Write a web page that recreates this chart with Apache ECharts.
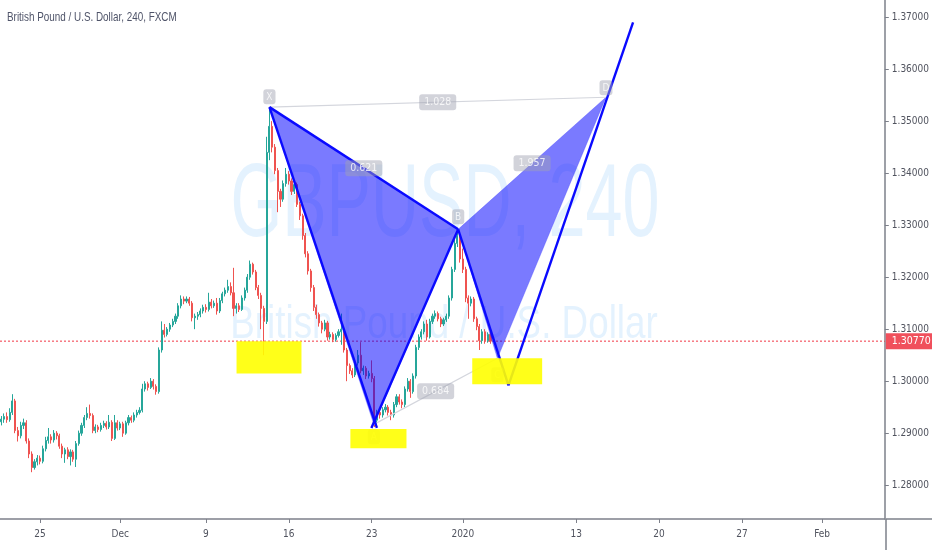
<!DOCTYPE html>
<html><head><meta charset="utf-8">
<script src="https://cdn.jsdelivr.net/npm/echarts@6/dist/echarts.min.js"></script>
<style>html,body{margin:0;padding:0;background:#fff}#c{width:932px;height:550px}</style>
</head><body><div id="c"></div>
<script>
// [open, close, low, high] per 4h bar, bar index = position in array
const candles = [
[1.2922,1.2927,1.2915,1.2933],[1.2927,1.2932,1.2920,1.2938],[1.2932,1.2926,1.2920,1.2940],[1.2926,1.2940,1.2922,1.2948],
[1.2940,1.2962,1.2935,1.2975],[1.2962,1.2905,1.2900,1.2966],[1.2905,1.2895,1.2884,1.2912],[1.2895,1.2915,1.2890,1.2922],
[1.2915,1.2920,1.2908,1.2928],[1.2920,1.2885,1.2880,1.2925],[1.2885,1.2860,1.2852,1.2890],[1.2860,1.2834,1.2825,1.2865],
[1.2834,1.2845,1.2830,1.2850],[1.2845,1.2852,1.2838,1.2858],[1.2852,1.2846,1.2840,1.2857],[1.2846,1.2870,1.2842,1.2876],
[1.2870,1.2886,1.2865,1.2893],[1.2886,1.2893,1.2880,1.2910],[1.2893,1.2887,1.2880,1.2898],[1.2887,1.2900,1.2882,1.2906],
[1.2900,1.2895,1.2888,1.2904],[1.2895,1.2875,1.2870,1.2899],[1.2875,1.2860,1.2852,1.2880],[1.2860,1.2868,1.2843,1.2872],
[1.2868,1.2855,1.2850,1.2873],[1.2855,1.2864,1.2838,1.2869],[1.2864,1.2850,1.2845,1.2868],[1.2850,1.2880,1.2835,1.2885],
[1.2880,1.2900,1.2876,1.2905],[1.2900,1.2915,1.2895,1.2920],[1.2915,1.2930,1.2910,1.2935],[1.2930,1.2938,1.2925,1.2950],
[1.2938,1.2934,1.2928,1.2955],[1.2934,1.2905,1.2900,1.2938],[1.2905,1.2912,1.2900,1.2917],[1.2912,1.2907,1.2902,1.2916],
[1.2907,1.2915,1.2903,1.2920],[1.2915,1.2919,1.2910,1.2924],[1.2919,1.2912,1.2907,1.2923],[1.2912,1.2921,1.2908,1.2935],
[1.2921,1.2890,1.2885,1.2925],[1.2890,1.2920,1.2887,1.2935],[1.2920,1.2910,1.2905,1.2925],[1.2910,1.2918,1.2906,1.2922],
[1.2918,1.2900,1.2893,1.2922],[1.2900,1.2920,1.2897,1.2924],[1.2920,1.2930,1.2915,1.2935],[1.2930,1.2925,1.2920,1.2934],
[1.2925,1.2935,1.2921,1.2940],[1.2935,1.2940,1.2930,1.2945],[1.2940,1.2944,1.2936,1.2950],[1.2944,1.2985,1.2940,1.2995],
[1.2985,1.2995,1.2980,1.3000],[1.2995,1.2988,1.2982,1.2999],[1.2988,1.3000,1.2985,1.3006],[1.3000,1.2990,1.2984,1.3004],
[1.2990,1.2980,1.2974,1.2994],[1.2980,1.3060,1.2976,1.3065],[1.3060,1.3098,1.3055,1.3115],[1.3098,1.3090,1.3084,1.3110],
[1.3090,1.3100,1.3086,1.3104],[1.3100,1.3108,1.3095,1.3112],[1.3108,1.3115,1.3104,1.3120],[1.3115,1.3125,1.3110,1.3130],
[1.3125,1.3145,1.3120,1.3150],[1.3145,1.3158,1.3140,1.3165],[1.3158,1.3154,1.3148,1.3163],[1.3154,1.3158,1.3150,1.3163],
[1.3158,1.3150,1.3145,1.3162],[1.3150,1.3122,1.3115,1.3154],[1.3122,1.3125,1.3100,1.3130],[1.3125,1.3128,1.3118,1.3133],
[1.3128,1.3135,1.3123,1.3140],[1.3135,1.3142,1.3130,1.3147],[1.3142,1.3138,1.3132,1.3148],[1.3138,1.3152,1.3134,1.3170],
[1.3152,1.3145,1.3140,1.3158],[1.3145,1.3150,1.3141,1.3155],[1.3150,1.3135,1.3128,1.3160],[1.3135,1.3155,1.3131,1.3160],
[1.3155,1.3168,1.3150,1.3172],[1.3168,1.3175,1.3163,1.3180],[1.3175,1.3182,1.3170,1.3195],[1.3182,1.3170,1.3165,1.3190],
[1.3170,1.3140,1.3125,1.3218],[1.3140,1.3145,1.3130,1.3150],[1.3145,1.3138,1.3133,1.3150],[1.3138,1.3160,1.3135,1.3165],
[1.3160,1.3175,1.3155,1.3180],[1.3175,1.3200,1.3170,1.3206],[1.3200,1.3225,1.3195,1.3232],[1.3225,1.3210,1.3205,1.3228],
[1.3210,1.3180,1.3175,1.3214],[1.3180,1.3165,1.3158,1.3185],[1.3165,1.3140,1.3100,1.3170],[1.3140,1.3115,1.3050,1.3145],
[1.3115,1.3440,1.3110,1.3470],[1.3440,1.3490,1.3425,1.3527],[1.3490,1.3450,1.3440,1.3500],[1.3450,1.3405,1.3398,1.3456],
[1.3405,1.3365,1.3325,1.3410],[1.3365,1.3350,1.3335,1.3370],[1.3350,1.3380,1.3345,1.3386],[1.3380,1.3398,1.3374,1.3410],
[1.3398,1.3385,1.3378,1.3404],[1.3385,1.3365,1.3358,1.3390],[1.3365,1.3378,1.3360,1.3384],[1.3378,1.3340,1.3335,1.3382],
[1.3340,1.3318,1.3310,1.3345],[1.3318,1.3280,1.3272,1.3322],[1.3280,1.3245,1.3238,1.3285],[1.3245,1.3212,1.3205,1.3250],
[1.3212,1.3180,1.3172,1.3216],[1.3180,1.3142,1.3135,1.3185],[1.3142,1.3128,1.3120,1.3147],[1.3128,1.3112,1.3105,1.3132],
[1.3112,1.3100,1.3092,1.3116],[1.3100,1.3112,1.3096,1.3118],[1.3112,1.3085,1.3078,1.3116],[1.3085,1.3090,1.3080,1.3095],
[1.3090,1.3080,1.3075,1.3094],[1.3080,1.3088,1.3076,1.3092],[1.3088,1.3095,1.3084,1.3100],[1.3095,1.3100,1.3070,1.3130],
[1.3100,1.3060,1.3055,1.3104],[1.3060,1.3030,1.3000,1.3064],[1.3030,1.3020,1.3014,1.3034],[1.3020,1.3012,1.3006,1.3025],
[1.3012,1.3035,1.3008,1.3040],[1.3035,1.3050,1.3030,1.3060],[1.3050,1.3020,1.3015,1.3075],[1.3020,1.3025,1.3012,1.3030],
[1.3025,1.3010,1.3004,1.3029],[1.3010,1.3015,1.3005,1.3020],[1.3015,1.3005,1.2998,1.3040],[1.3005,1.2925,1.2912,1.3010],
[1.2925,1.2940,1.2910,1.2945],[1.2940,1.2935,1.2928,1.2946],[1.2935,1.2945,1.2930,1.2950],[1.2945,1.2950,1.2940,1.2956],
[1.2950,1.2940,1.2934,1.2954],[1.2940,1.2935,1.2925,1.2945],[1.2935,1.2955,1.2930,1.2960],[1.2955,1.2970,1.2950,1.2975],
[1.2970,1.2960,1.2955,1.2975],[1.2960,1.2955,1.2948,1.2965],[1.2955,1.2985,1.2950,1.2990],[1.2985,1.3000,1.2980,1.3006],
[1.3000,1.2980,1.2968,1.3004],[1.2980,1.3010,1.2976,1.3015],[1.3010,1.3065,1.3005,1.3070],[1.3065,1.3085,1.3060,1.3090],
[1.3085,1.3095,1.3080,1.3100],[1.3095,1.3110,1.3090,1.3115],[1.3110,1.3085,1.3078,1.3118],[1.3085,1.3115,1.3082,1.3120],
[1.3115,1.3125,1.3110,1.3130],[1.3125,1.3130,1.3120,1.3136],[1.3130,1.3120,1.3115,1.3134],[1.3120,1.3110,1.3104,1.3124],
[1.3110,1.3118,1.3106,1.3122],[1.3118,1.3125,1.3114,1.3130],[1.3125,1.3160,1.3120,1.3165],[1.3160,1.3215,1.3155,1.3220],
[1.3215,1.3265,1.3210,1.3272],[1.3265,1.3280,1.3258,1.3292],[1.3280,1.3235,1.3228,1.3285],[1.3235,1.3215,1.3208,1.3255],
[1.3215,1.3160,1.3152,1.3220],[1.3160,1.3150,1.3120,1.3165],[1.3150,1.3158,1.3144,1.3163],[1.3158,1.3120,1.3114,1.3162],
[1.3120,1.3105,1.3098,1.3124],[1.3105,1.3078,1.3060,1.3110],[1.3078,1.3095,1.3072,1.3100],[1.3095,1.3078,1.3072,1.3100],
[1.3078,1.3090,1.3074,1.3094],[1.3090,1.3077,1.3072,1.3095]
];
const tickBars = [14, 43, 74, 104, 134, 167, 208, 238, 268, 297];
const tickLabels = ['25', 'Dec', '9', '16', '23', '2020', '13', '20', '27', 'Feb'];
const priceTicks = [1.28, 1.29, 1.30, 1.31, 1.32, 1.33, 1.34, 1.35, 1.36, 1.37];
const lastPrice = 1.3077;

// XABCD harmonic pattern
const patternNames = ['X', 'A', 'B', 'C', 'D'];
const patternBars = [97, 134.8, 165.3, 179.5, 218.8];
const patternPrices = [1.3527, 1.2917, 1.3292, 1.3044, 1.3546];
const patternTriangles = [[0, 1, 2], [2, 3, 4]];
const ratioLabels = ['1.028', '0.621', '1.957', '0.684'];
const ratioPairs = [[0, 4], [0, 2], [2, 4], [1, 3]];
const grayPairs = [[0, 4], [1, 3]];

// hand-drawn blue trend lines [bar, price]
const blueLines = [
  [[97, 1.3527], [165.3, 1.3292]],
  [[97, 1.3527], [135.9, 1.2910]],
  [[133.9, 1.2910], [165.3, 1.3292]],
  [[165.3, 1.3292], [183.5, 1.2992]],
  [[183.5, 1.2992], [228.6, 1.3690]]
];
// highlight boxes [bar1, price1, bar2, price2]
const yellowBoxes = [
  [85.1, 1.3077, 108.6, 1.3015],
  [126.3, 1.2908, 146.6, 1.2871],
  [170.4, 1.3044, 195.7, 1.2994]
];

const COND = "'DejaVu Sans Condensed','Liberation Sans',sans-serif";
const SANS = "'Liberation Sans',Arial,sans-serif";
const AXIS_COLOR = '#7d808a';
const X_MIN = -0.5, X_MAX = 319.7;
const chart = echarts.init(document.getElementById('c'), null, {renderer: 'canvas'});

const candleData = candles.map((c, i) => [i, c[0], c[1], c[2], c[3]]);
const labelBg = 'rgba(160,164,177,0.6)';

const series = [];
series.push({
  type: 'candlestick', z: 2, silent: true,
  data: candleData, encode: {x: 0, y: [1, 2, 3, 4]},
  barWidth: 1.6,
  itemStyle: {color: '#26a69a', color0: '#ef5350', borderColor: '#26a69a', borderColor0: '#ef5350', borderWidth: 1}
});
// current price line with axis label
series.push({
  type: 'line', z: 2, silent: true, symbol: 'none',
  data: [[X_MIN, lastPrice], [X_MAX, lastPrice]],
  lineStyle: {color: '#f23645', type: [2, 2], width: 1},
  endLabel: {show: true, distance: 1, formatter: lastPrice.toFixed(5), backgroundColor: '#f0505c',
    color: '#fff', padding: [3, 6, 2, 6], fontSize: 10.5, fontFamily: COND}
});
series.push({
  type: 'custom', z: 3, silent: true, clip: false,
  data: patternTriangles.map(t => [patternBars[t[0]], patternPrices[t[0]]]),
  renderItem: (params, api) => {
    const t = patternTriangles[params.dataIndex];
    const pts = t.map(k => api.coord([patternBars[k], patternPrices[k]]));
    return {type: 'polygon', shape: {points: pts},
      style: {fill: 'rgba(0,0,255,0.52)', stroke: 'rgba(60,60,255,0.35)', lineWidth: 1}};
  }
});
grayPairs.forEach(p => series.push({
  type: 'line', z: 4, silent: true, symbol: 'none',
  data: p.map(k => [patternBars[k], patternPrices[k]]),
  lineStyle: {color: '#d4d6dd', width: 1.2}
}));
blueLines.forEach(l => series.push({
  type: 'line', z: 5, silent: true, symbol: 'none', data: l,
  lineStyle: {color: '#0a0aff', width: 2.4}
}));
series.push({
  type: 'scatter', z: 6, silent: true, symbolSize: 0,
  data: ratioPairs.map((p, i) => ({
    value: [(patternBars[p[0]] + patternBars[p[1]]) / 2, (patternPrices[p[0]] + patternPrices[p[1]]) / 2],
    name: ratioLabels[i]
  })),
  label: {show: true, position: 'inside', formatter: p => p.name, backgroundColor: labelBg, color: '#fff',
    padding: [3, 5, 2, 5], borderRadius: 3, fontSize: 10.5, fontFamily: COND}
});
const letterDist = [3, 5, 5, 9, 2];
series.push({
  type: 'scatter', z: 6, silent: true, symbolSize: 0,
  data: patternNames.map((n, i) => ({
    value: [patternBars[i], patternPrices[i]], name: n,
    label: {position: i % 2 === 0 ? 'top' : 'bottom', distance: letterDist[i]}
  })),
  label: {show: true, formatter: p => p.name, backgroundColor: labelBg, color: '#fff',
    padding: [3, 3, 2, 3], borderRadius: 3, fontSize: 10, fontFamily: COND}
});
series.push({
  type: 'custom', z: 7, silent: true, clip: false,
  data: yellowBoxes.map(b => [b[0], b[1]]),
  renderItem: (params, api) => {
    const b = yellowBoxes[params.dataIndex];
    const p1 = api.coord([b[0], b[1]]);
    const p2 = api.coord([b[2], b[3]]);
    return {type: 'rect', shape: {x: p1[0], y: p1[1], width: p2[0] - p1[0], height: p2[1] - p1[1]},
      style: {fill: 'rgba(255,255,0,0.9)'}};
  }
});

chart.setOption({
  animation: false,
  backgroundColor: '#ffffff',
  grid: {left: 0, right: 46, top: 0, bottom: 31},
  xAxis: {
    type: 'value', min: X_MIN, max: X_MAX,
    splitLine: {show: false},
    axisLine: {onZero: false, lineStyle: {color: AXIS_COLOR, width: 1.5}},
    axisTick: {show: true, length: 4, customValues: tickBars, lineStyle: {color: AXIS_COLOR}},
    axisLabel: {customValues: tickBars, margin: 10, color: '#50535e', fontSize: 10, fontFamily: COND,
      formatter: v => { const k = tickBars.indexOf(Math.round(v)); return k >= 0 ? tickLabels[k] : ''; }}
  },
  yAxis: {
    type: 'value', position: 'right', min: 1.2735, max: 1.3733, scale: true,
    splitLine: {show: false},
    axisLine: {show: true, onZero: false, lineStyle: {color: AXIS_COLOR, width: 1.5}},
    axisTick: {show: true, length: 4, customValues: priceTicks, lineStyle: {color: AXIS_COLOR}},
    axisLabel: {customValues: priceTicks, margin: 7, color: '#50535e', fontSize: 10, fontFamily: COND,
      formatter: v => v.toFixed(5)}
  },
  graphic: [
    {type: 'text', x: 7, y: 17, scaleX: 0.76, silent: true, z: 10,
      style: {text: 'British Pound / U.S. Dollar, 240, FXCM', fill: '#4f5469', font: "13px " + SANS,
        textAlign: 'left', textVerticalAlign: 'middle'}},
    {type: 'text', x: 445, y: 207, scaleX: 0.64, z: -10, silent: true,
      style: {text: 'GBPUSD, 240', fill: 'rgba(33,150,243,0.12)', font: "104px " + SANS,
        textAlign: 'center', textVerticalAlign: 'middle'}},
    {type: 'text', x: 444, y: 325, scaleX: 0.8, z: -10, silent: true,
      style: {text: 'British Pound / U.S. Dollar', fill: 'rgba(33,150,243,0.12)', font: "46px " + SANS,
        textAlign: 'center', textVerticalAlign: 'middle'}},
    {type: 'line', silent: true, shape: {x1: 886, y1: 519, x2: 886, y2: 550}, style: {stroke: AXIS_COLOR, lineWidth: 1.5}},
    {type: 'line', silent: true, shape: {x1: 886, y1: 519, x2: 932, y2: 519}, style: {stroke: AXIS_COLOR, lineWidth: 1.5}}
  ],
  series: series
});
</script></body></html>
